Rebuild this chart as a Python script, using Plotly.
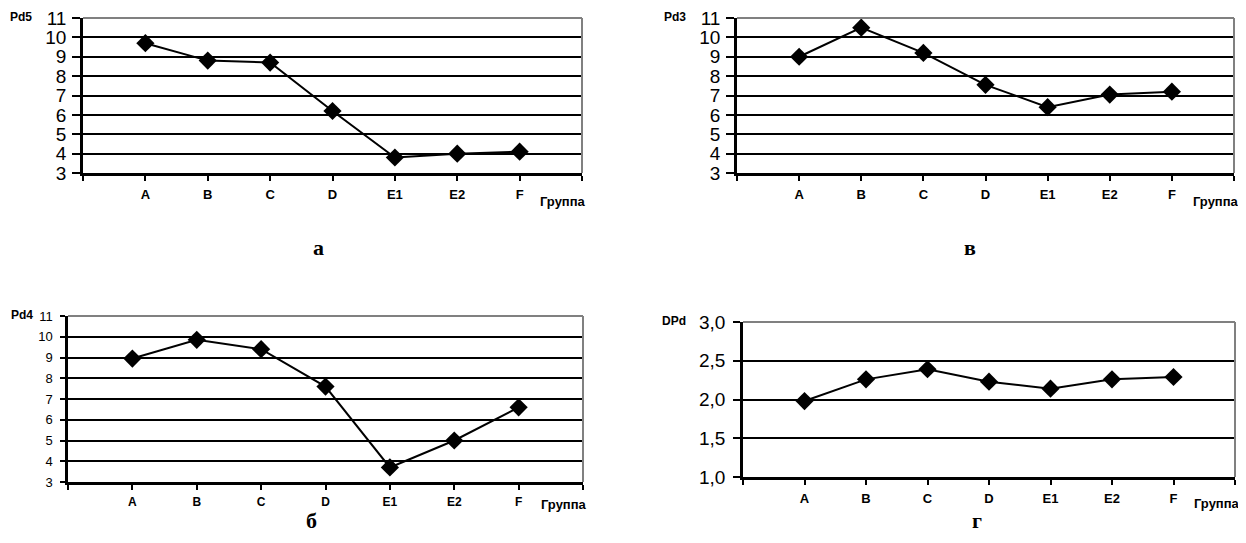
import plotly.graph_objects as go

# window 1246x543; page body has an 8px margin, so the figure is sized to fit inside it
WIN_W, WIN_H = 1246, 543
OFF = 8
W, H = WIN_W - 2 * OFF, WIN_H - 2 * OFF

categories = ["A", "B", "C", "D", "E1", "E2", "F"]
pd5 = [9.7, 8.8, 8.7, 6.2, 3.8, 4.0, 4.1]
pd3 = [9.0, 10.5, 9.2, 7.55, 6.4, 7.05, 7.2]
pd4 = [8.95, 9.85, 9.4, 7.6, 3.7, 5.0, 6.6]
dpd = [1.98, 2.26, 2.39, 2.23, 2.14, 2.26, 2.29]

ticks_int = [3, 4, 5, 6, 7, 8, 9, 10, 11]
ticks_int_text = [str(v) for v in ticks_int]
ticks_dpd = [1.0, 1.5, 2.0, 2.5, 3.0]
ticks_dpd_text = ["1,0", "1,5", "2,0", "2,5", "3,0"]

y_titles = ["Pd5", "Pd3", "Pd4", "DPd"]
panel_letters = ["а", "в", "б", "г"]
x_title = "Группа"


def px(x):
    return (x - OFF) / W


def py(y):
    return 1 - (y - OFF) / H


# panel geometry in window pixels: (left, right, top, bottom)
panels = [
    dict(box=(83, 582, 18, 173), data=pd5, yt=ticks_int, ytt=ticks_int_text, yfs=19, xfs=13,
         ytl=8, ysd=2, ytitle=(21, 17), xtitle=(563, 201), letter=(318, 248), standoff=3),
    dict(box=(737, 1234, 18, 173), data=pd3, yt=ticks_int, ytt=ticks_int_text, yfs=19, xfs=13,
         ytl=8, ysd=2, ytitle=(675, 17), xtitle=(1216, 201), letter=(970, 248), standoff=3),
    dict(box=(68, 583, 316, 482), data=pd4, yt=ticks_int, ytt=ticks_int_text, yfs=13, xfs=12,
         ytl=5, ysd=5, ytitle=(22, 315), xtitle=(564, 504), letter=(311, None), standoff=2),
    dict(box=(743, 1235, 322, 477), data=dpd, yt=ticks_dpd, ytt=ticks_dpd_text, yfs=19, xfs=13,
         ytl=7, ysd=4, ytitle=(674, 321), xtitle=(1217, 503), letter=(977, None), standoff=3),
]

fig = go.Figure()
layout = dict(width=W, height=H, margin=dict(l=0, r=0, t=0, b=0, pad=0, autoexpand=False),
              plot_bgcolor="white", paper_bgcolor="white", showlegend=False,
              annotations=[], shapes=[])

xpos = list(range(1, len(categories) + 1))
for i, p in enumerate(panels):
    n = i + 1
    xs = "" if n == 1 else str(n)
    l, r, t, b = p["box"]
    xdom = [px(l), px(r)]
    ydom = [py(b), py(t)]
    yt = p["yt"]
    fig.add_trace(go.Scatter(
        x=xpos, y=p["data"], mode="lines+markers",
        line=dict(color="black", width=2),
        marker=dict(symbol="diamond", size=14, color="black"),
        xaxis="x" + xs, yaxis="y" + xs, cliponaxis=False))
    layout["xaxis" + xs] = dict(
        domain=xdom, anchor="y" + xs, range=[0, 8], automargin=False,
        tickmode="array", tickvals=list(range(0, 9)),
        ticktext=[""] + categories + [""],
        ticks="outside", ticklen=5, tickwidth=2, tickcolor="black",
        showline=True, linecolor="black", linewidth=2.5,
        showgrid=False, zeroline=False, ticklabelstandoff=p["standoff"],
        ticklabeloverflow="allow",
        tickfont=dict(family="Liberation Sans, Arial", size=p["xfs"], color="black", weight="bold"))
    # overlay axis for the inner half of the crossing ticks
    layout["xaxis" + str(n + 4)] = dict(
        overlaying="x" + xs, anchor="y" + xs, range=[0, 8], automargin=False,
        tickmode="array", tickvals=list(range(0, 9)),
        ticks="inside", ticklen=5, tickwidth=2, tickcolor="black",
        showticklabels=False, showline=False, showgrid=False, zeroline=False)
    layout["yaxis" + xs] = dict(
        domain=ydom, anchor="x" + xs, range=[yt[0], yt[-1]], automargin=False,
        tickmode="array", tickvals=yt, ticktext=p["ytt"],
        ticks="outside", ticklen=p["ytl"], tickwidth=2, tickcolor="black",
        showline=True, linecolor="black", linewidth=2.5,
        showgrid=True, gridcolor="black", gridwidth=2.2, zeroline=False,
        ticklabelstandoff=p["ysd"], ticklabeloverflow="allow",
        tickfont=dict(family="Liberation Sans, Arial", size=p["yfs"], color="black"))
    # gray top and right frame
    layout["shapes"].append(dict(type="line", xref="x" + xs + " domain", yref="y" + xs + " domain",
                                 x0=0, x1=1, y0=1, y1=1, line=dict(color="#808080", width=2), layer="above"))
    layout["shapes"].append(dict(type="line", xref="x" + xs + " domain", yref="y" + xs + " domain",
                                 x0=1, x1=1, y0=0, y1=1, line=dict(color="#808080", width=2), layer="above"))
    ax, ay = p["ytitle"]
    layout["annotations"].append(dict(text=y_titles[i], x=px(ax), y=py(ay), xref="paper", yref="paper",
                                      showarrow=False, xanchor="center", yanchor="middle",
                                      font=dict(family="Liberation Sans, Arial", size=12, color="black", weight="bold")))
    gx, gy = p["xtitle"]
    layout["annotations"].append(dict(text=x_title, x=px(gx), y=py(gy), xref="paper", yref="paper",
                                      showarrow=False, xanchor="center", yanchor="middle",
                                      font=dict(family="Liberation Sans, Arial", size=13, color="black", weight="bold")))
    lx, ly = p["letter"]
    if ly is None:
        ann_y, ann_anchor = 0, "bottom"
    else:
        ann_y, ann_anchor = py(ly), "middle"
    layout["annotations"].append(dict(text=panel_letters[i], x=px(lx), y=ann_y, xref="paper", yref="paper",
                                      showarrow=False, xanchor="center", yanchor=ann_anchor,
                                      font=dict(family="Liberation Serif, Times New Roman", size=22, color="black", weight="bold")))

fig.update_layout(**layout)
fig.write_html("out.html")
